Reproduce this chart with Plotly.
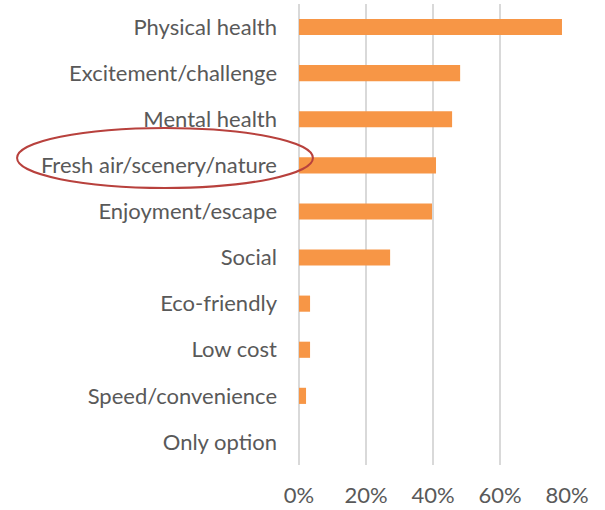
import plotly.graph_objects as go

categories = ["Physical health", "Excitement/challenge", "Mental health",
              "Fresh air/scenery/nature", "Enjoyment/escape", "Social",
              "Eco-friendly", "Low cost", "Speed/convenience", "Only option"]
values = [0.785, 0.481, 0.457, 0.409, 0.397, 0.272, 0.033, 0.033, 0.021, 0.0]
tick_vals = [0, 0.2, 0.4, 0.6, 0.8]
tick_text = ["0%", "20%", "40%", "60%", "80%"]

fig = go.Figure(go.Bar(
    x=values, y=categories, orientation="h",
    marker=dict(color="#F79646", line=dict(width=0)),
    width=0.35,
))

font_family = "Lato, Carlito, Calibri, sans-serif"
fig.update_layout(
    width=605, height=510,
    margin=dict(l=299, r=38, t=4, b=45, autoexpand=False),
    paper_bgcolor="white", plot_bgcolor="white",
    showlegend=False,
    font=dict(family=font_family, size=22, color="#595959"),
)
fig.update_xaxes(
    range=[0, 0.8], tickvals=tick_vals, ticktext=tick_text,
    showgrid=True, gridcolor="#D9D9D9", gridwidth=1.5,
    zeroline=True, zerolinecolor="#D9D9D9", zerolinewidth=1.5,
    showline=False, ticks="", ticklabelstandoff=15, automargin=False,
    tickfont=dict(family=font_family, size=22, color="#595959"),
)
fig.update_yaxes(
    categoryorder="array", categoryarray=categories[::-1],
    showgrid=False, zeroline=False, showline=False, ticks="",
    ticklabelstandoff=21, automargin=False,
    tickfont=dict(family=font_family, size=22, color="#595959"),
)

fig.add_shape(
    type="circle", xref="paper", yref="paper",
    x0=-1.052, x1=0.052, y0=0.601, y1=0.731,
    line=dict(color="#B8413D", width=2), fillcolor="rgba(0,0,0,0)",
)

fig.write_html("out.html", config={"displayModeBar": False},
               post_script="document.body.style.margin='0';")
